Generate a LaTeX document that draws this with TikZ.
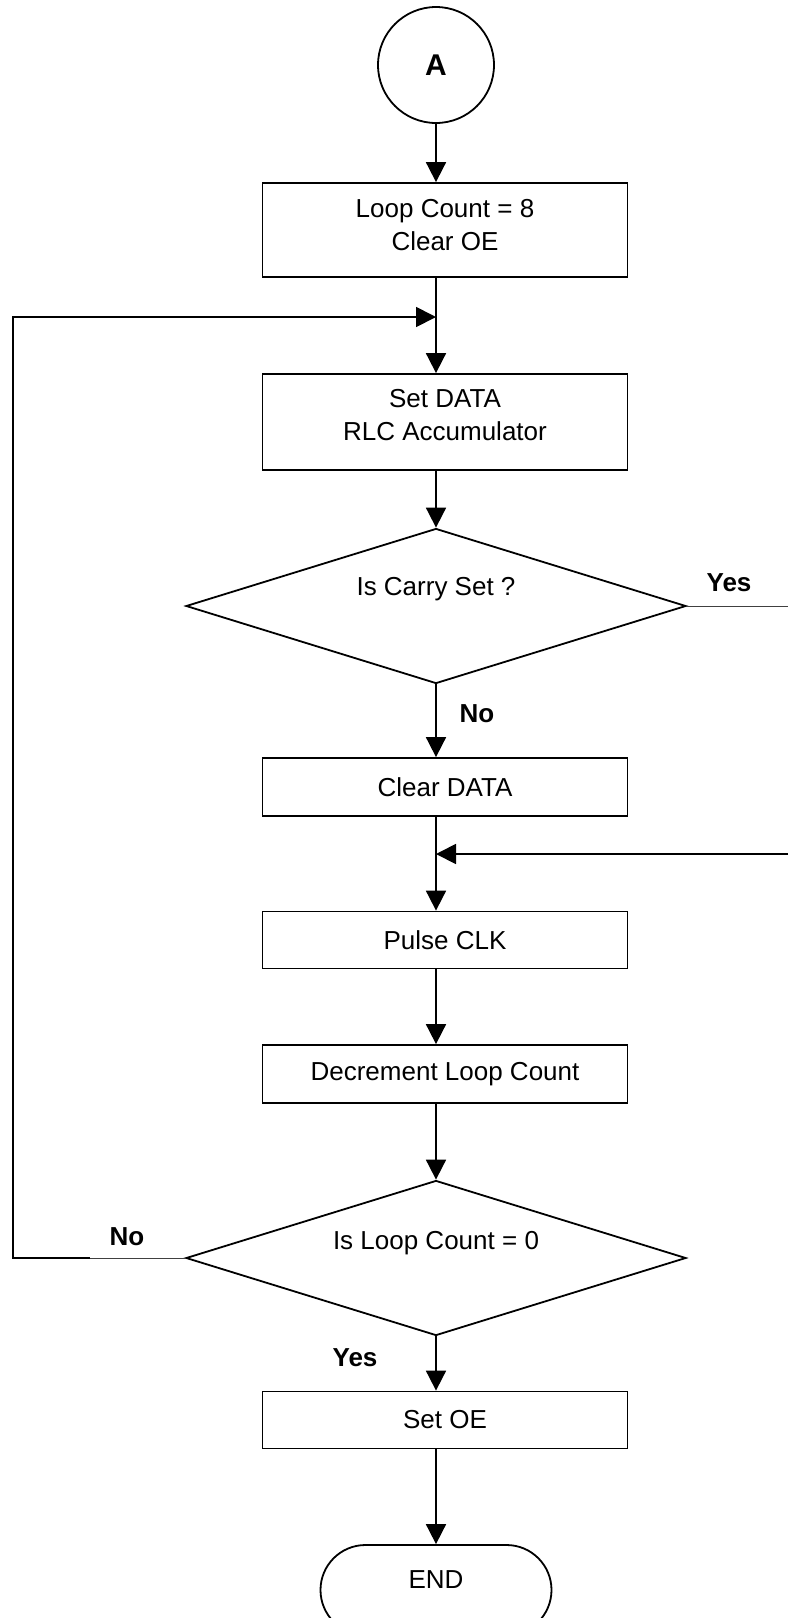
\documentclass[tikz,border=0pt]{standalone}
\usepackage{fontspec}
\setmainfont{Liberation Sans}
\usetikzlibrary{shapes.geometric,shapes.misc,arrows.meta}
\begin{document}
\begin{tikzpicture}[x=1pt,y=-1pt,
  every node/.style={font=\fontsize{26}{33}\selectfont},
  every label/.style={align=center},
  proc/.style={draw, line width=1.8pt, minimum width=365pt, inner sep=0pt, align=center},
  dec/.style={draw, diamond, line width=1.8pt, minimum width=500pt, minimum height=155pt, inner sep=0pt, aspect=3.2},
  flow/.style={line width=1.8pt, -{Triangle[length=20pt,width=20pt]}},
  thinline/.style={line width=0.9pt, black!75},
  lbl/.style={font=\fontsize{26}{30}\selectfont\bfseries}
]
\useasboundingbox (0,0) rectangle (788,1618);
\clip (0,0) rectangle (788,1618);

\coordinate (col) at (436,0);

\node[draw, circle, line width=1.8pt, minimum size=116pt, inner sep=0pt,
      font=\fontsize{30}{30}\selectfont\bfseries] (A) at (436,65) {A};
\node[proc, minimum height=94pt, label={[yshift=5pt]center:Loop Count = 8\\Clear OE}] (b1) at (445,230) {};
\node[proc, minimum height=96pt, label={[yshift=7pt]center:Set DATA\\RLC Accumulator}] (b2) at (445,422) {};
\node[dec, label={[yshift=17pt]center:Is Carry Set ?}] (d1) at (436,606) {};
\node[proc, minimum height=58pt] (b3) at (445,787) {Clear DATA};
\node[proc, minimum height=57pt] (b4) at (445,940) {Pulse CLK};
\node[proc, minimum height=58pt] (b5) at (445,1074) {Decrement Loop Count};
\node[dec, label={[yshift=15pt]center:Is Loop Count = 0}] (d2) at (436,1258) {};
\node[proc, minimum height=57pt] (b6) at (445,1420) {Set OE};
\node[draw, rounded rectangle, line width=1.8pt, minimum width=231pt, minimum height=90pt,
      inner sep=0pt, label={[yshift=10pt]center:END}] (end) at (436,1590) {};

\node[lbl] (yes1) at (729,583) {Yes};
\node[lbl] (no1) at (477,714) {No};
\node[lbl] (no2) at (127,1237) {No};
\node[lbl] (yes2) at (355,1358) {Yes};

\draw[flow] (A.south) -- (b1.north -| col);
\draw[flow] (b1.south -| col) -- (b2.north -| col);
\draw[flow] (b2.south -| col) -- (d1.north);
\draw[flow] (d1.south) -- (b3.north -| col);
\draw[flow] (b3.south -| col) -- (b4.north -| col);
\draw[flow] (b4.south -| col) -- (b5.north -| col);
\draw[flow] (b5.south -| col) -- (d2.north);
\draw[flow] (d2.south) -- (b6.north -| col);
\draw[flow] (b6.south -| col) -- (end.north);

\coordinate (yesR) at (788,606);
\draw[thinline] (d1.east) -- (yesR);
\coordinate (retR) at (788,854);
\draw[flow] (retR) -- (retR -| col);

\coordinate (noMid) at (90,1258);
\coordinate (loopB) at (13,1258);
\coordinate (loopT) at (13,317);
\draw[thinline] (d2.west) -- (noMid);
\draw[flow] (noMid) -- (loopB) -- (loopT) -- (loopT -| col);
\end{tikzpicture}
\end{document}
